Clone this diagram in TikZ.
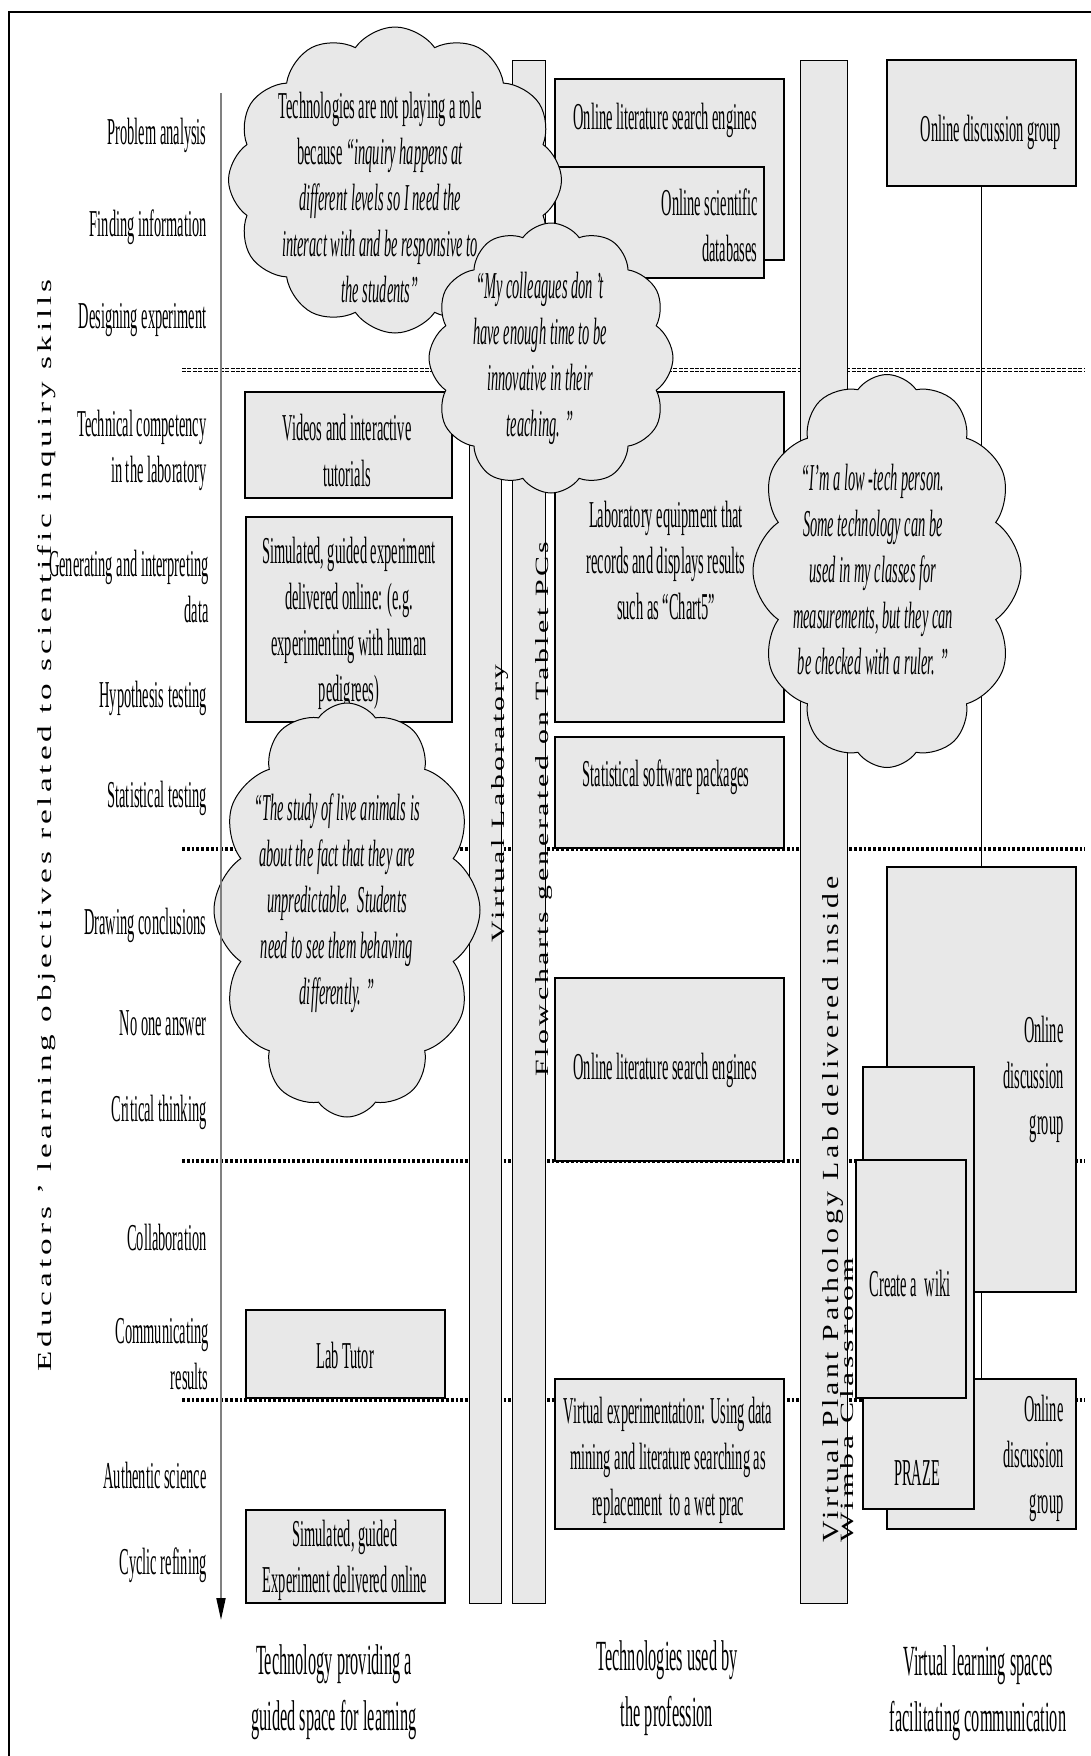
\documentclass[tikz,border=0pt]{standalone}
\usepackage{fontspec}
\setmainfont{Liberation Serif}[FakeStretch=0.38]
\newfontfamily\rotfont{Liberation Serif}[LetterSpace=12]
\usepackage{graphicx}
\usetikzlibrary{arrows.meta, fit, shapes.symbols}
\definecolor{boxgray}{HTML}{E8E8E8}

\begin{document}
\begin{tikzpicture}[x=0.5pt, y=-0.5pt]
  \tikzset{txt/.style = {inner sep=0pt, align=center, font=\fontsize{19}{23}\selectfont}}
  \tikzset{rtxt/.style = {txt, anchor=east, align=right}}
  \tikzset{tool/.style = {draw, fill=boxgray, line width=0.6pt, inner sep=0pt}}
  \tikzset{bar/.style = {draw, fill=boxgray, line width=0.4pt, inner sep=0pt}}
  \tikzset{bubble/.style = {cloud, cloud puffs=12, cloud puff arc=110, cloud ignores aspect,
                            draw, fill=boxgray, line width=0.5pt, inner sep=0pt}}
  \tikzset{vtext/.style = {rotate=90, anchor=base west, inner sep=0pt}}
  \tikzset{level/.style = {line width=1.8pt, dash pattern=on 1.4pt off 1pt}}
  \tikzset{caption/.style = {inner sep=0pt, align=center, font=\fontsize{21.5}{28}\selectfont}}

  \useasboundingbox (0,0) rectangle (1091,1756);
  \draw[line width=1pt] (9,1756) -- (9,12) -- (1091,12);

  % level separators
  \draw[line width=0.45pt, double, double distance=1pt, dash pattern=on 2pt off 0.7pt] (182,370) -- (1085,370);
  \foreach \y in {849,1161,1400}
    \draw[level] (182,\y) -- (1085,\y);

  % skills
  \node[rtxt] (s1) at (207,135) {Problem analysis};
  \node[rtxt] (s2) at (207,227) {Finding information};
  \node[rtxt] (s3) at (207,320) {Designing experiment};
  \node[rtxt] (s4) at (207,450) {Technical competency\\in the laboratory};
  \node[rtxt] (s5) at (209,586) {Generating and interpreting\\data};
  \node[rtxt] (s6) at (207,698) {Hypothesis testing};
  \node[rtxt] (s7) at (207,798) {Statistical testing};
  \node[rtxt] (s8) at (207,925) {Drawing conclusions};
  \node[rtxt] (s9) at (207,1023) {No one answer};
  \node[rtxt] (s10) at (207,1112) {Critical thinking};
  \node[rtxt] (s11) at (207,1237) {Collaboration};
  \node[rtxt] (s12) at (209,1354) {Communicating\\results};
  \node[rtxt] (s13) at (207,1475) {Authentic science};
  \node[rtxt] (s14) at (207,1565) {Cyclic refining};

  \node[vtext] (title) at (52,1372) {\resizebox{546pt}{7pt}{\rotfont Educators ’ learning objectives related to scientific inquiry skills}};

  % bars
  \node[bar, fit={(469,100) (501,1603)}] (vlab) {};
  \node[bar, fit={(512,60) (545,1603)}] (flow) {};
  \node[bar, fit={(800,60) (847,1603)}] (wimba) {};
  \node[vtext] (vlabt) at (504,943) {\resizebox{139pt}{6.5pt}{\rotfont Virtual Laboratory}};
  \node[vtext] (flowt) at (548,1077) {\resizebox{267.5pt}{6.5pt}{\rotfont Flowcharts generated on Tablet PCs}};
  \node[vtext] (wimbat) at (838,1543) {\resizebox{333pt}{8pt}{\rotfont Virtual Plant Pathology Lab delivered inside}};
  \node[vtext] (wimbas) at (853,1543) {\resizebox{142.5pt}{6.5pt}{\rotfont Wimba Classroom}};

  % guided space
  \node[tool, fit={(245,392) (452,498)}] (video) {};
  \node[txt] (videot) at (347,450) {Videos and interactive\\tutorials};
  \node[tool, fit={(246,517) (452,722)}] (simexp) {};
  \node[txt] (simexpt) at (349,623) {Simulated, guided experiment\\delivered online: (e.g.\\experimenting with human\\pedigrees)};
  \node[tool, fit={(246,1310) (445,1398)}] (tutor) {};
  \node[txt] (tutort) at (345,1355) {Lab Tutor};
  \node[tool, fit={(246,1510) (445,1603)}] (simlast) {};
  \node[txt] (simlastt) at (345,1560) {Simulated, guided\\Experiment delivered online};

  % profession
  \node[tool, fit={(555,79) (784,260)}] (lit1) {};
  \node[txt] (lit1t) at (665,120) {Online literature search engines};
  \node[tool, fit={(555,167) (764,278)}] (sci) {};
  \node[rtxt] (scit) at (758,225) {Online scientific\\databases};
  \node[tool, fit={(555,392) (784,722)}] (labeq) {};
  \node[txt] (labeqt) at (666,560) {Laboratory equipment that\\records and displays results\\such as “Chart5”};
  \node[tool, fit={(555,737) (784,848)}] (stats) {};
  \node[txt] (statst) at (666,777) {Statistical software packages};
  \node[tool, fit={(555,978) (784,1161)}] (lit2) {};
  \node[txt] (lit2t) at (665,1070) {Online literature search engines};
  \node[tool, fit={(555,1379) (784,1529)}] (virt) {};
  \node[txt] (virtt) at (668,1460) {Virtual experimentation: Using data\\mining and literature searching as\\replacement\ \ to a wet prac};

  % communication
  \node[tool, fit={(887,60) (1076,186)}] (disc1) {};
  \node[txt] (disc1t) at (991,132) {Online discussion group};
  \node[tool, fit={(887,867) (1076,1292)}] (disc2) {};
  \node[rtxt] (disc2t) at (1064,1079) {Online\\discussion\\group};
  \node[tool, fit={(887,1379) (1076,1529)}] (disc3) {};
  \node[rtxt] (disc3t) at (1064,1458) {Online\\discussion\\group};
  \node[tool, fit={(863,1067) (974,1509)}] (praze) {};
  \node[txt] (prazet) at (917,1473) {PRAZE};
  \node[tool, fit={(856,1160) (966,1398)}] (wiki) {};
  \node[txt] (wikit) at (910,1283) {Create a\ \ wiki};
  \draw[line width=0.4pt] (disc1.south) -- (disc2.north);
  \draw[line width=0.4pt] (disc2.south) -- (disc3.north);

  % quotes
  \node[bubble, minimum width=166.5pt, minimum height=153pt] (cA) at (395,180) {};
  \node[txt] (qA) at (380,198) {Technologies are not playing a role\\because\ \textit{“inquiry happens at}\\\textit{different levels so I need the}\\\textit{interact with and be responsive to}\\\textit{the students”}};
  \node[bubble, minimum width=122pt, minimum height=135pt] (cB) at (551,358) {};
  \node[txt, font=\fontsize{19}{23}\selectfont\itshape] (qB) at (540,358) {“My colleagues don ’t\\have enough time to be\\innovative in their\\teaching. ”};
  \node[bubble, minimum width=133pt, minimum height=207pt] (cC) at (347,910) {};
  \node[txt, font=\fontsize{19}{23}\selectfont\itshape] (qC) at (337,903) {“The study of live animals is\\about the fact that they are\\unpredictable.\ \ Students\\need to see them behaving\\differently. ”};
  \node[bubble, minimum width=134pt, minimum height=196.5pt] (cD) at (887,571) {};
  \node[txt, font=\fontsize{19}{23}\selectfont\itshape] (qD) at (873,570) {“I’m a low -tech person.\\Some technology can be\\used in my classes for\\measurements, but they can\\be checked with a ruler. ”};

  % axis
  \coordinate (atop) at (221,93);
  \coordinate (abot) at (221,1620);
  \draw[line width=1pt, draw=gray, -{Triangle[length=11pt, width=4.5pt, color=black]}] (atop) -- (abot);

  \node[caption] (capA) at (334,1692) {Technology providing a\\guided space for learning};
  \node[caption] (capB) at (667,1688) {Technologies used by\\the profession};
  \node[caption] (capC) at (978,1693) {Virtual learning spaces\\facilitating communication};
\end{tikzpicture}
\end{document}
